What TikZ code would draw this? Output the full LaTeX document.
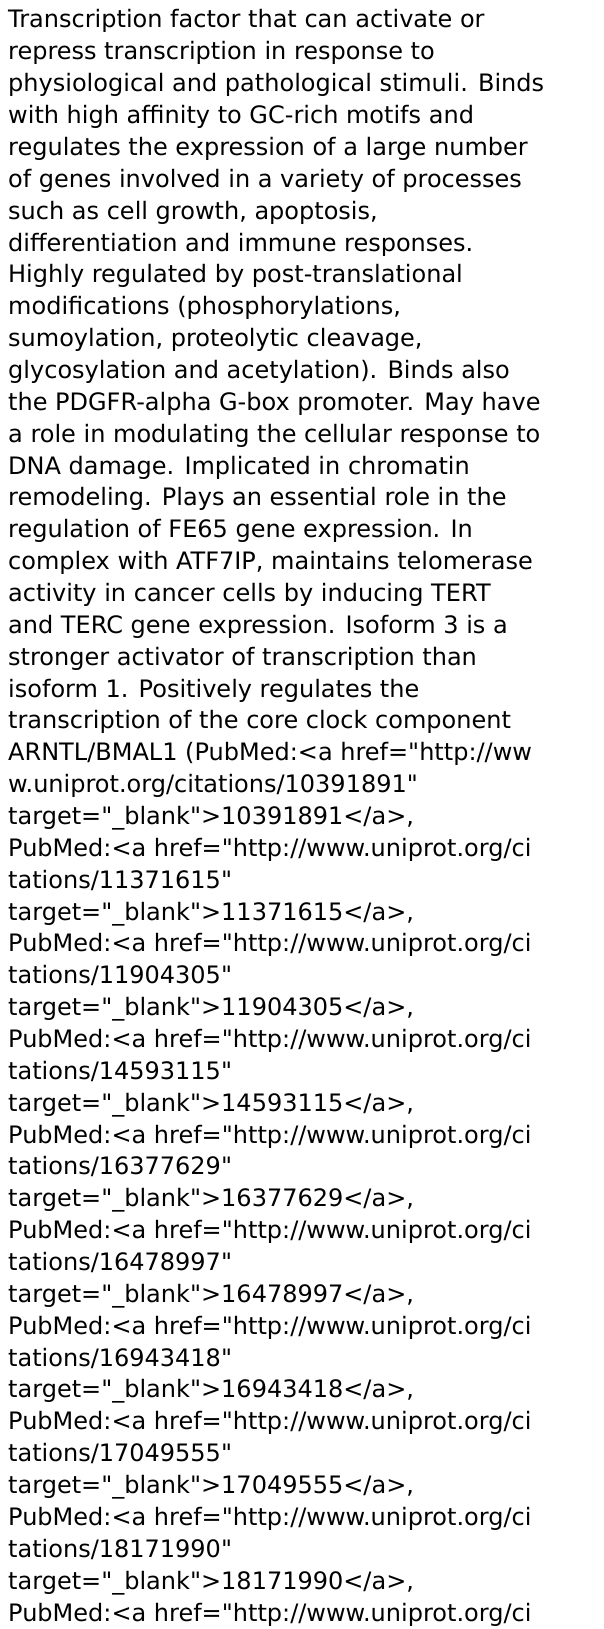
\documentclass[tikz,border=0pt]{standalone}
\usepackage{fontspec}
\setmainfont{DejaVu Sans}[Ligatures=TeXOff]
\begin{document}
\begin{tikzpicture}[x=1bp,y=1bp,
  ln/.style={anchor=base west,inner sep=0pt,font=\fontsize{24bp}{32bp}\selectfont}]
\fill[white] (0,0) rectangle (604,-1629);
\useasboundingbox (0,0) rectangle (604,-1629);
\def\dy{31.86}
\node[ln] (l1) at (8,{-28-0*\dy}) {Transcription factor that can activate or};
\node[ln] (l2) at (8,{-28-1*\dy}) {repress transcription in response to};
\node[ln] (l3) at (8,{-28-2*\dy}) {physiological and pathological stimuli. Binds};
\node[ln] (l4) at (8,{-28-3*\dy}) {with high affinity to GC-rich motifs and};
\node[ln] (l5) at (8,{-28-4*\dy}) {regulates the expression of a large number};
\node[ln] (l6) at (8,{-28-5*\dy}) {of genes involved in a variety of processes};
\node[ln] (l7) at (8,{-28-6*\dy}) {such as cell growth, apoptosis,};
\node[ln] (l8) at (8,{-28-7*\dy}) {differentiation and immune responses.};
\node[ln] (l9) at (8,{-28-8*\dy}) {Highly regulated by post-translational};
\node[ln] (l10) at (8,{-28-9*\dy}) {modifications (phosphorylations,};
\node[ln] (l11) at (8,{-28-10*\dy}) {sumoylation, proteolytic cleavage,};
\node[ln] (l12) at (8,{-28-11*\dy}) {glycosylation and acetylation). Binds also};
\node[ln] (l13) at (8,{-28-12*\dy}) {the PDGFR-alpha G-box promoter. May have};
\node[ln] (l14) at (8,{-28-13*\dy}) {a role in modulating the cellular response to};
\node[ln] (l15) at (8,{-28-14*\dy}) {DNA damage. Implicated in chromatin};
\node[ln] (l16) at (8,{-28-15*\dy}) {remodeling. Plays an essential role in the};
\node[ln] (l17) at (8,{-28-16*\dy}) {regulation of FE65 gene expression. In};
\node[ln] (l18) at (8,{-28-17*\dy}) {complex with ATF7IP, maintains telomerase};
\node[ln] (l19) at (8,{-28-18*\dy}) {activity in cancer cells by inducing TERT};
\node[ln] (l20) at (8,{-28-19*\dy}) {and TERC gene expression. Isoform 3 is a};
\node[ln] (l21) at (8,{-28-20*\dy}) {stronger activator of transcription than};
\node[ln] (l22) at (8,{-28-21*\dy}) {isoform 1. Positively regulates the};
\node[ln] (l23) at (8,{-28-22*\dy}) {transcription of the core clock component};
\node[ln] (l24) at (8,{-28-23*\dy}) {ARNTL/BMAL1 (PubMed:<a href="http://ww};
\node[ln] (l25) at (8,{-28-24*\dy}) {w.uniprot.org/citations/10391891"};
\node[ln] (l26) at (8,{-28-25*\dy}) {target="\_blank">10391891</a>,};
\node[ln] (l27) at (8,{-28-26*\dy}) {PubMed:<a href="http://www.uniprot.org/ci};
\node[ln] (l28) at (8,{-28-27*\dy}) {tations/11371615"};
\node[ln] (l29) at (8,{-28-28*\dy}) {target="\_blank">11371615</a>,};
\node[ln] (l30) at (8,{-28-29*\dy}) {PubMed:<a href="http://www.uniprot.org/ci};
\node[ln] (l31) at (8,{-28-30*\dy}) {tations/11904305"};
\node[ln] (l32) at (8,{-28-31*\dy}) {target="\_blank">11904305</a>,};
\node[ln] (l33) at (8,{-28-32*\dy}) {PubMed:<a href="http://www.uniprot.org/ci};
\node[ln] (l34) at (8,{-28-33*\dy}) {tations/14593115"};
\node[ln] (l35) at (8,{-28-34*\dy}) {target="\_blank">14593115</a>,};
\node[ln] (l36) at (8,{-28-35*\dy}) {PubMed:<a href="http://www.uniprot.org/ci};
\node[ln] (l37) at (8,{-28-36*\dy}) {tations/16377629"};
\node[ln] (l38) at (8,{-28-37*\dy}) {target="\_blank">16377629</a>,};
\node[ln] (l39) at (8,{-28-38*\dy}) {PubMed:<a href="http://www.uniprot.org/ci};
\node[ln] (l40) at (8,{-28-39*\dy}) {tations/16478997"};
\node[ln] (l41) at (8,{-28-40*\dy}) {target="\_blank">16478997</a>,};
\node[ln] (l42) at (8,{-28-41*\dy}) {PubMed:<a href="http://www.uniprot.org/ci};
\node[ln] (l43) at (8,{-28-42*\dy}) {tations/16943418"};
\node[ln] (l44) at (8,{-28-43*\dy}) {target="\_blank">16943418</a>,};
\node[ln] (l45) at (8,{-28-44*\dy}) {PubMed:<a href="http://www.uniprot.org/ci};
\node[ln] (l46) at (8,{-28-45*\dy}) {tations/17049555"};
\node[ln] (l47) at (8,{-28-46*\dy}) {target="\_blank">17049555</a>,};
\node[ln] (l48) at (8,{-28-47*\dy}) {PubMed:<a href="http://www.uniprot.org/ci};
\node[ln] (l49) at (8,{-28-48*\dy}) {tations/18171990"};
\node[ln] (l50) at (8,{-28-49*\dy}) {target="\_blank">18171990</a>,};
\node[ln] (l51) at (8,{-28-50*\dy}) {PubMed:<a href="http://www.uniprot.org/ci};
\end{tikzpicture}
\end{document}
